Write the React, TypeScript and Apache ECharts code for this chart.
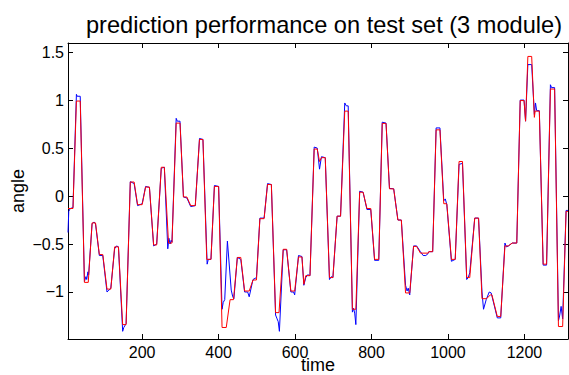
import React, { useEffect, useRef } from "react";
import * as echarts from "echarts";

const titleText = "prediction performance on test set (3 module)";
const xName = "time";
const yName = "angle";
const xTicks = [200, 400, 600, 800, 1000, 1200];
const yTicks = [-1, -0.5, 0, 0.5, 1, 1.5];

// actual angle (blue)
const actual: [number, number][] = [
  [6, -0.38], [8, -0.16], [12, -0.13], [19, -0.12],
  [28, 1.06], [30, 1.04], [38, 1.04],
  [49, -0.89], [53, -0.84], [55, -0.87], [58, -0.79], [60, -0.82],
  [69, -0.29], [74, -0.27], [78, -0.29],
  [88, -0.62], [97, -0.62],
  [108, -1.0], [111, -0.99], [118, -0.96],
  [128, -0.55], [133, -0.52], [138, -0.53],
  [149, -1.41], [152, -1.37], [158, -1.33],
  [169, 0.15], [179, 0.13],
  [188, -0.1], [200, -0.08],
  [209, 0.1], [219, 0.09],
  [230, -0.52], [238, -0.5],
  [250, 0.29], [258, 0.3],
  [267, -0.55], [270, -0.44], [273, -0.5], [276, -0.46], [278, -0.48],
  [289, 0.81], [292, 0.78], [299, 0.78],
  [308, -0.01], [317, -0.02],
  [327, -0.11], [339, -0.1],
  [350, 0.6], [359, 0.59],
  [370, -0.71], [373, -0.66], [380, -0.66],
  [389, 0.11], [400, 0.1],
  [409, -1.18], [412, -1.11], [416, -1.08], [423, -0.47], [433, -0.98], [437, -1.05], [440, -1.07],
  [449, -0.64], [458, -0.66],
  [468, -1.0], [476, -1.0], [480, -1.05],
  [490, -0.87], [499, -0.85],
  [508, -0.23], [519, -0.23],
  [528, 0.13], [538, 0.12],
  [549, -1.24], [553, -1.28], [556, -1.31], [559, -1.41],
  [569, -0.56], [578, -0.56],
  [589, -1.0], [596, -1.0], [599, -1.03],
  [609, -0.62], [618, -0.63],
  [623, -0.93], [628, -0.85], [633, -0.82], [639, -0.83],
  [650, 0.51], [658, 0.5],
  [664, 0.28], [669, 0.41], [679, 0.4],
  [690, -0.87], [695, -0.84], [699, -0.85],
  [710, -0.21], [719, -0.21],
  [730, 0.97], [734, 0.94], [739, 0.94],
  [750, -1.21], [753, -1.17], [756, -1.22], [759, -1.34],
  [769, 0.05], [778, 0.04],
  [788, -0.14], [798, -0.14],
  [808, -0.67], [819, -0.67],
  [828, 0.77], [838, 0.76],
  [847, 0.08], [858, 0.075],
  [869, -0.25], [878, -0.25],
  [889, -0.93], [893, -0.99], [896, -0.96], [900, -1.03],
  [910, -0.52], [918, -0.52],
  [928, -0.58], [935, -0.62], [942, -0.62], [948, -0.6],
  [950, -0.58], [960, -0.58],
  [969, 0.71], [979, 0.71],
  [989, -0.05], [993, -0.03], [997, -0.09],
  [1009, -0.68], [1019, -0.66],
  [1029, 0.33], [1038, 0.34],
  [1049, -0.87], [1053, -0.85], [1057, -0.8],
  [1070, -0.23], [1080, -0.23],
  [1089, -1.0], [1093, -1.18], [1100, -1.08], [1108, -1.0], [1113, -1.01],
  [1129, -1.27], [1138, -1.27],
  [1149, -0.49], [1153, -0.53], [1158, -0.52],
  [1168, -0.49], [1180, -0.49],
  [1189, 1.0], [1199, 1.0],
  [1203, 0.78],
  [1209, 1.37], [1219, 1.37],
  [1226, 0.85], [1229, 0.97], [1232, 0.89], [1239, 0.89],
  [1249, -0.72], [1258, -0.72],
  [1268, 1.16], [1271, 1.13], [1279, 1.13],
  [1289, -1.3], [1292, -1.25], [1296, -1.15], [1300, -1.28],
  [1309, -0.15], [1314, -0.15],
];

// predicted angle (red)
const predicted: [number, number][] = [
  [6, -0.13], [19, -0.13],
  [28, 0.99], [38, 0.99],
  [49, -0.9], [59, -0.9],
  [69, -0.28], [78, -0.28],
  [88, -0.61], [97, -0.61],
  [108, -0.97], [118, -0.97],
  [128, -0.53], [138, -0.53],
  [149, -1.34], [158, -1.34],
  [169, 0.146], [179, 0.146],
  [188, -0.09], [200, -0.09],
  [209, 0.094], [219, 0.094],
  [230, -0.51], [238, -0.51],
  [250, 0.3], [258, 0.3],
  [269, -0.49], [278, -0.49],
  [289, 0.76], [299, 0.76],
  [308, -0.01], [317, -0.01],
  [327, -0.1], [339, -0.1],
  [350, 0.59], [359, 0.59],
  [369, -0.66], [380, -0.66],
  [389, 0.1], [400, 0.1],
  [409, -1.37], [420, -1.37],
  [430, -1.08], [439, -1.08],
  [449, -0.64], [458, -0.64],
  [468, -0.99], [480, -0.99],
  [490, -0.875], [499, -0.875],
  [508, -0.236], [519, -0.236],
  [528, 0.12], [538, 0.12],
  [549, -1.215], [558, -1.215],
  [569, -0.555], [578, -0.555],
  [589, -0.99], [599, -0.99],
  [609, -0.635], [618, -0.635],
  [623, -0.92], [628, -0.83], [639, -0.83],
  [650, 0.49], [658, 0.49],
  [664, 0.36], [669, 0.4], [679, 0.4],
  [690, -0.85], [699, -0.85],
  [710, -0.21], [719, -0.21],
  [730, 0.885], [739, 0.885],
  [750, -1.18], [759, -1.18],
  [769, 0.04], [778, 0.04],
  [788, -0.13], [798, -0.13],
  [808, -0.66], [819, -0.66],
  [828, 0.757], [838, 0.757],
  [847, 0.075], [858, 0.075],
  [869, -0.25], [878, -0.25],
  [889, -1.01], [900, -1.01],
  [910, -0.525], [918, -0.525],
  [928, -0.595], [948, -0.595],
  [950, -0.58], [960, -0.58],
  [969, 0.69], [979, 0.69],
  [989, -0.08], [997, -0.08],
  [1009, -0.66], [1019, -0.66],
  [1029, 0.36], [1038, 0.36],
  [1049, -0.85], [1057, -0.85],
  [1070, -0.23], [1080, -0.23],
  [1089, -1.07], [1101, -1.07],
  [1111, -1.03], [1115, -1.03],
  [1129, -1.255], [1138, -1.255],
  [1149, -0.52], [1158, -0.52],
  [1168, -0.49], [1180, -0.49],
  [1189, 0.995], [1199, 0.995],
  [1203, 0.78],
  [1209, 1.455], [1219, 1.455],
  [1226, 0.82], [1228, 0.885], [1239, 0.885],
  [1249, -0.71], [1258, -0.71],
  [1268, 1.115], [1279, 1.115],
  [1289, -1.36], [1300, -1.36],
  [1309, -0.16], [1314, -0.16],
];

const FONT = "'Liberation Sans', Arial, Helvetica, sans-serif";
const fmtY = (v: number) => (v < 0 ? "\u2212" + String(Math.abs(v)) : String(v));
const fmtX = (v: number) => String(v);

export default function App() {
  const ref = useRef<HTMLDivElement>(null);
  useEffect(() => {
    if (!ref.current) return;
    const chart = echarts.init(ref.current, undefined, { renderer: "svg" });
    const axisLine = { show: true, onZero: false, lineStyle: { color: "#000", width: 1 } };
    const tick = (vals: number[]) => ({ show: true, inside: true, length: 5, customValues: vals, lineStyle: { color: "#000", width: 1 } });
    chart.setOption({
      animation: false,
      backgroundColor: "#fff",
      title: {
        text: titleText,
        left: 319,
        textAlign: "center",
        top: 8,
        textStyle: { fontSize: 23.6, fontWeight: "normal", color: "#000", fontFamily: FONT },
      },
      grid: { left: 68, right: 1, top: 43, bottom: 36, containLabel: false, outerBoundsMode: "none" },
      xAxis: [
        {
          type: "value", position: "bottom", min: 6, max: 1314,
          axisLine, axisTick: tick(xTicks),
          axisLabel: { customValues: xTicks, color: "#000", fontSize: 16, margin: 5, fontFamily: FONT, formatter: fmtX },
          splitLine: { show: false },
          name: xName, nameLocation: "middle", nameGap: 17, nameMoveOverlap: false,
          nameTextStyle: { color: "#000", fontSize: 18, fontFamily: FONT, verticalAlign: "top" },
        },
        {
          type: "value", position: "top", min: 6, max: 1314,
          axisLine, axisTick: tick(xTicks), axisLabel: { show: false }, splitLine: { show: false },
        },
      ],
      yAxis: [
        {
          type: "value", position: "left", min: -1.49, max: 1.595,
          axisLine, axisTick: tick(yTicks),
          axisLabel: { customValues: yTicks, color: "#000", fontSize: 16, margin: 4, fontFamily: FONT, formatter: fmtY },
          splitLine: { show: false },
          name: yName, nameLocation: "middle", nameGap: 41, nameRotate: 90, nameMoveOverlap: false,
          nameTextStyle: { color: "#000", fontSize: 18, fontFamily: FONT },
        },
        {
          type: "value", position: "right", min: -1.49, max: 1.595,
          axisLine, axisTick: tick(yTicks), axisLabel: { show: false }, splitLine: { show: false },
        },
      ],
      series: [
        {
          name: "actual", type: "line", data: actual, xAxisIndex: 0, yAxisIndex: 0,
          showSymbol: false, symbol: "none", lineStyle: { color: "#0000ff", width: 1 }, z: 2,
        },
        {
          name: "predicted", type: "line", data: predicted, xAxisIndex: 0, yAxisIndex: 0,
          showSymbol: false, symbol: "none", lineStyle: { color: "#ff0000", width: 1 }, z: 3,
        },
      ],
    });
    return () => chart.dispose();
  }, []);
  return (
    <div
      ref={ref}
      style={{ position: "fixed", left: 0, top: 0, width: 569, height: 375, background: "#fff" }}
    />
  );
}
